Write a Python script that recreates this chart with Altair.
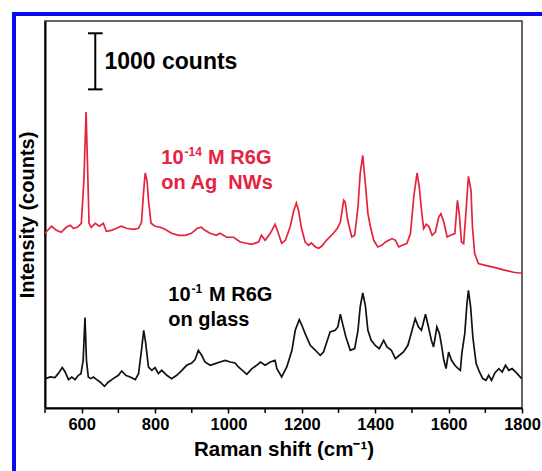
import altair as alt
import pandas as pd

# 10^-14 M R6G on Ag nanowires: Raman shift (cm^-1) and intensity (counts)
sers_shift = [500, 518, 531, 544, 558, 569, 577, 588, 599, 606, 612, 617, 620, 626,
              637, 648, 659, 667, 681, 695, 708, 722, 741, 755, 763, 768, 773, 778,
              782, 789, 800, 814, 827, 845, 864, 882, 899, 915, 926, 936, 950, 967,
              977, 995, 1014, 1032, 1049, 1063, 1082, 1090, 1100, 1114, 1127, 1136,
              1145, 1155, 1168, 1177, 1185, 1191, 1199, 1209, 1218, 1226, 1237, 1246,
              1254, 1267, 1286, 1297, 1305, 1314, 1318, 1325, 1336, 1344, 1353, 1359,
              1366, 1373, 1380, 1387, 1396, 1407, 1418, 1428, 1437, 1446, 1455, 1464,
              1473, 1486, 1496, 1505, 1514, 1520, 1527, 1532, 1539, 1546, 1555, 1564,
              1573, 1579, 1587, 1596, 1605, 1617, 1624, 1629, 1635, 1641, 1647, 1654,
              1661, 1665, 1671, 1681, 1700, 1727, 1755, 1777, 1800]
sers_counts = [3115, 3240, 3168, 3133, 3222, 3258, 3204, 3222, 3293, 4060, 5278, 4060,
               3293, 3222, 3293, 3240, 3293, 3151, 3168, 3204, 3240, 3204, 3186, 3204,
               3311, 3792, 4190, 4060, 3703, 3293, 3240, 3222, 3186, 3115, 3079, 3079,
               3115, 3204, 3222, 3168, 3115, 3079, 3115, 3044, 3044, 2960, 2937, 2919,
               2960, 3079, 2990, 3115, 3275, 3115, 2937, 2990, 3227, 3495, 3655, 3525,
               3204, 2960, 2901, 2942, 2871, 2847, 2883, 2990, 3115, 3204, 3316, 3703,
               3673, 3347, 3049, 3079, 3584, 4185, 4506, 4006, 3471, 3227, 2990, 2871,
               2901, 2960, 2990, 3020, 2990, 2871, 2901, 2931, 3110, 3762, 4190, 3940,
               3466, 3199, 3275, 3240, 3079, 3138, 3406, 3466, 3316, 3049, 3079, 3110,
               3703, 3466, 2960, 2931, 3466, 4131, 3882, 3227, 2753, 2575, 2544, 2503,
               2455, 2420, 2402]

# 10^-1 M R6G on bare glass
glass_shift = [502, 514, 527, 536, 547, 555, 564, 573, 582, 591, 598, 604, 609, 613,
               618, 625, 632, 641, 650, 662, 673, 686, 700, 709, 720, 732, 746, 755,
               764, 769, 774, 782, 791, 800, 809, 818, 832, 845, 859, 873, 886, 900,
               909, 918, 927, 936, 950, 964, 977, 991, 1005, 1018, 1027, 1038, 1050,
               1064, 1077, 1087, 1100, 1114, 1127, 1132, 1145, 1159, 1173, 1182, 1193,
               1200, 1211, 1223, 1237, 1250, 1259, 1268, 1277, 1291, 1298, 1305, 1311,
               1320, 1332, 1344, 1353, 1359, 1366, 1373, 1380, 1389, 1400, 1411, 1423,
               1432, 1444, 1455, 1466, 1477, 1489, 1498, 1509, 1518, 1526, 1537, 1544,
               1553, 1559, 1568, 1575, 1580, 1587, 1593, 1600, 1608, 1617, 1626, 1632,
               1636, 1644, 1650, 1654, 1660, 1666, 1675, 1684, 1693, 1702, 1709, 1717,
               1726, 1737, 1746, 1755, 1764, 1773, 1787, 1799]
glass_counts = [524, 553, 542, 613, 720, 642, 506, 553, 506, 583, 613, 850, 1612, 850,
                553, 524, 553, 506, 464, 387, 464, 524, 583, 660, 583, 553, 506, 613,
                1088, 1385, 1177, 731, 672, 720, 613, 672, 583, 524, 583, 672, 761, 802,
                863, 1029, 940, 820, 761, 792, 820, 850, 820, 802, 731, 672, 601, 702,
                761, 820, 761, 820, 850, 702, 553, 731, 1029, 1385, 1576, 1475, 1296,
                1118, 1029, 940, 998, 1177, 1355, 1385, 1444, 1671, 1505, 1266, 1029,
                1059, 1385, 1801, 2050, 1831, 1385, 1207, 1118, 1059, 1207, 1088, 1029,
                881, 940, 998, 1118, 1327, 1594, 1444, 1385, 1671, 1475, 1207, 1088,
                1444, 1327, 1148, 850, 702, 998, 850, 761, 702, 672, 970, 1327, 1861,
                2099, 1801, 1266, 792, 642, 524, 494, 583, 494, 624, 702, 642, 761, 672,
                702, 613, 524]

# labelled and unlabelled x-axis tick positions
major_ticks = [600, 800, 1000, 1200, 1400, 1600, 1800]
minor_ticks = [500, 700, 900, 1100, 1300, 1500, 1700]

# scale bar (1000 counts) and its caption
bar_shift = 637
bar_low, bar_high = 5681, 6681
bar_cap = 20
bar_text = "1000 counts"
bar_text_pos = (662, 6169)

# curve labels: anchor (shift, counts) of each line, plus base / superscript / rest pieces
sers_anchor = [(817, 4452), (817, 4006)]
sers_first = ("10", "-14", "M R6G")
sers_second = "on Ag\u00a0\u00a0NWs"
glass_anchor = [(836, 2008), (836, 1564)]
glass_first = ("10", "-1", "M R6G")
glass_second = "on glass"

RED = "#e5233f"
FONT = "Liberation Sans"
LABEL_SIZE = 20
SUP_SIZE = 12

sers = pd.DataFrame({"shift": sers_shift, "counts": sers_counts})
glass = pd.DataFrame({"shift": glass_shift, "counts": glass_counts})

x_scale = alt.Scale(domain=[500, 1800], nice=False, zero=False)
y_scale = alt.Scale(domain=[0, 6900], nice=False, zero=False)

x_axis = alt.Axis(
    title="Raman shift (cm⁻¹)",
    values=major_ticks,
    format="d",
    labelOverlap=False,
    labelFlush=False,
    grid=False,
    tickSize=5, tickWidth=1.5, tickColor="black",
    domainColor="black", domainWidth=2,
    labelFont=FONT, labelFontSize=16.5, labelFontWeight="bold", labelColor="black",
    labelPadding=3,
    titleFont=FONT, titleFontSize=20.5, titleFontWeight="bold", titleColor="black",
    titlePadding=7,
)
y_axis = alt.Axis(
    title="Intensity (counts)",
    labels=False, ticks=False, grid=False,
    domainColor="black", domainWidth=2,
    titleFont=FONT, titleFontSize=20, titleFontWeight="bold", titleColor="black",
    titlePadding=8,
)

X = alt.X("shift:Q", scale=x_scale, axis=x_axis)
Y = alt.Y("counts:Q", scale=y_scale, axis=y_axis)

sers_line = alt.Chart(sers).mark_line(color=RED, strokeWidth=1.7, clip=True).encode(x=X, y=Y)
glass_line = alt.Chart(glass).mark_line(color="#111111", strokeWidth=1.7, clip=True).encode(x=X, y=Y)

# unlabelled ticks between the labelled ones
minor = alt.Chart(pd.DataFrame({"shift": minor_ticks})).mark_rule(
    color="black", strokeWidth=1.5
).encode(x=X, y=alt.value(388), y2=alt.value(392))

bar_df = pd.DataFrame({"shift": [bar_shift], "counts": [bar_low], "top": [bar_high]})
bar = alt.Chart(bar_df).mark_rule(color="black", strokeWidth=2).encode(x=X, y=Y, y2="top:Q")
caps_df = pd.DataFrame({"shift": [bar_shift - bar_cap] * 2,
                        "right": [bar_shift + bar_cap] * 2,
                        "counts": [bar_low, bar_high]})
caps = alt.Chart(caps_df).mark_rule(color="black", strokeWidth=2).encode(x=X, x2="right:Q", y=Y)

bar_label = alt.Chart(pd.DataFrame({"shift": [bar_text_pos[0]], "counts": [bar_text_pos[1]],
                                    "t": [bar_text]})).mark_text(
    align="left", baseline="middle", font=FONT, fontSize=23, fontWeight="bold", color="black"
).encode(x=X, y=Y, text="t:N")


def curve_label(anchor, first, second, color):
    """Two-line label; the first line carries a superscript exponent."""
    (x1, y1), (x2, y2) = anchor
    base, sup, rest = first
    base_w = 0.556 * LABEL_SIZE * len(base)
    sup_w = 0.5 * SUP_SIZE * len(sup) + 1
    style = dict(align="left", baseline="middle", font=FONT, fontWeight="bold", color=color)
    row = lambda x, y, t: pd.DataFrame({"shift": [x], "counts": [y], "t": [t]})
    parts = [
        alt.Chart(row(x1, y1, base)).mark_text(fontSize=LABEL_SIZE, **style),
        alt.Chart(row(x1, y1, sup)).mark_text(fontSize=SUP_SIZE, dx=base_w + 1, dy=-6, **style),
        alt.Chart(row(x1, y1, rest)).mark_text(
            fontSize=LABEL_SIZE, dx=base_w + sup_w + 0.278 * LABEL_SIZE, **style),
        alt.Chart(row(x2, y2, second)).mark_text(fontSize=LABEL_SIZE, **style),
    ]
    return [p.encode(x=X, y=Y, text="t:N") for p in parts]


sers_text = curve_label(sers_anchor, sers_first, sers_second, RED)
glass_text = curve_label(glass_anchor, glass_first, glass_second, "black")

# blue figure border along the top and left edges
BLUE = "#0a0af5"
border_left = alt.Chart(pd.DataFrame({"a": [0]})).mark_rule(color=BLUE, strokeWidth=4).encode(
    x=alt.value(-31), y=alt.value(-9), y2=alt.value(460)
)
border_top = alt.Chart(pd.DataFrame({"a": [0]})).mark_rule(color=BLUE, strokeWidth=4).encode(
    x=alt.value(-33), x2=alt.value(520), y=alt.value(-7)
)

chart = alt.layer(
    sers_line, glass_line, minor, bar, caps, bar_label, *sers_text, *glass_text,
    border_left, border_top,
).properties(
    width=477, height=387,
    autosize=alt.AutoSizeParams(type="none"),
    padding={"left": 45, "top": 21, "right": 20, "bottom": 63},
    background="white",
).configure_view(
    stroke="#333333", strokeWidth=1.5
)

chart.save("out.html", embed_options={"renderer": "svg", "actions": False})
